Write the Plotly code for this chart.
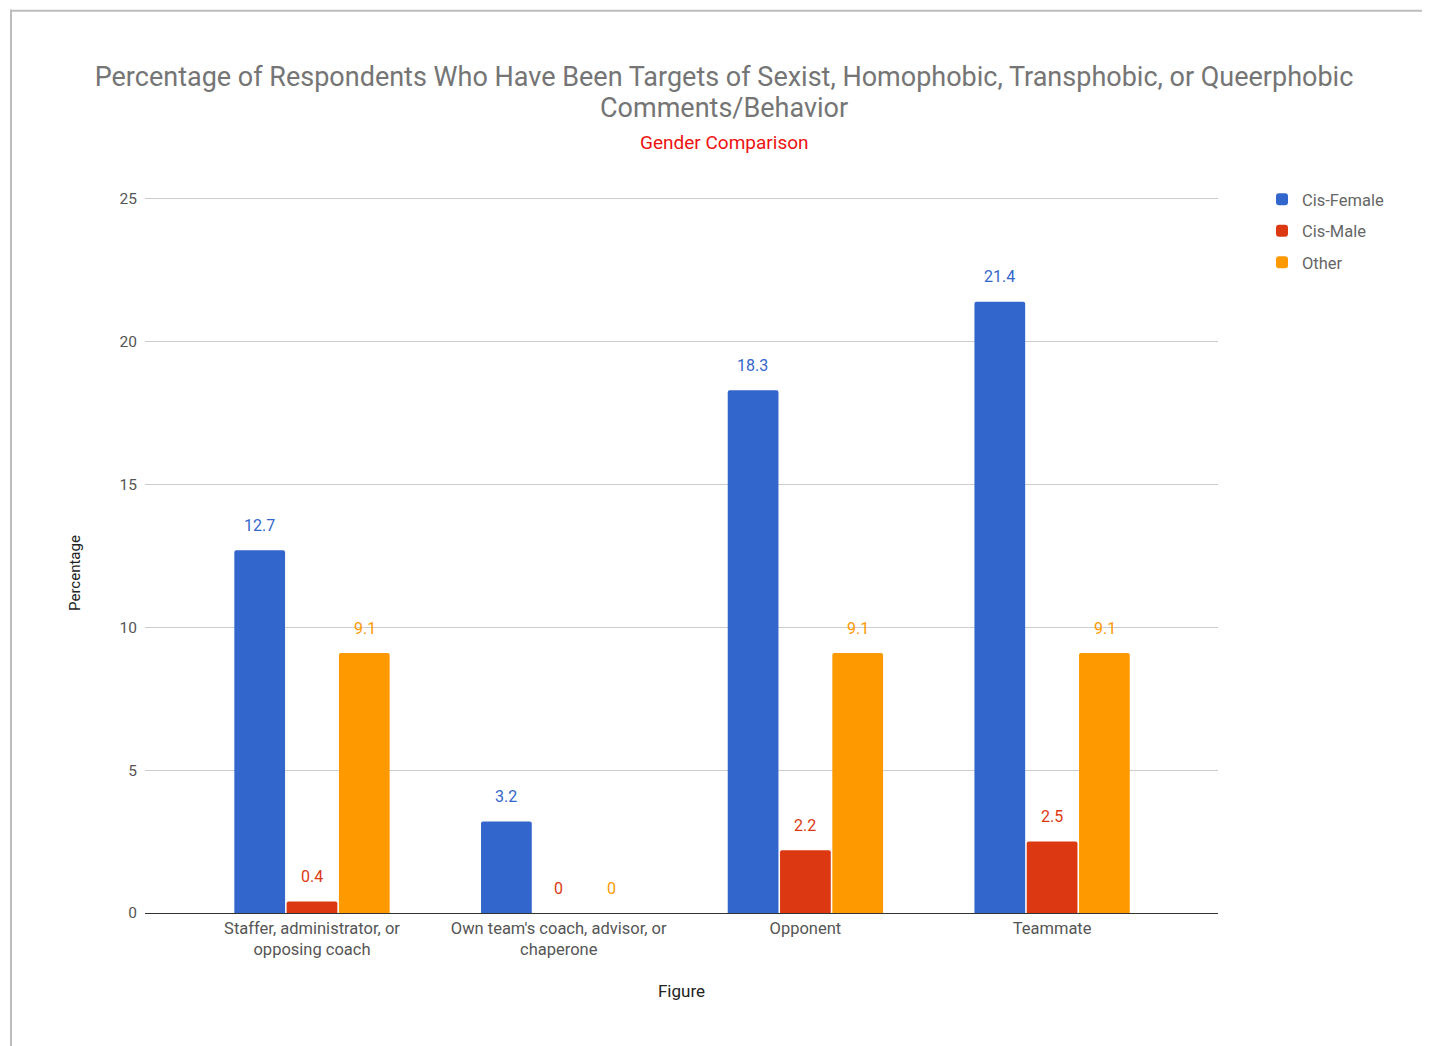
import plotly.graph_objects as go

categories = ["Staffer, administrator, or<br>opposing coach",
              "Own team's coach, advisor, or<br>chaperone",
              "Opponent", "Teammate"]
series_names = ["Cis-Female", "Cis-Male", "Other"]
cis_female = [12.7, 3.2, 18.3, 21.4]
cis_male = [0.4, 0, 2.2, 2.5]
other = [9.1, 0, 9.1, 9.1]
y_ticks = [0, 5, 10, 15, 20, 25]

title_line1 = "Percentage of Respondents Who Have Been Targets of Sexist, Homophobic, Transphobic, or Queerphobic"
title_line2 = "Comments/Behavior"
subtitle = "Gender Comparison"

series_values = [cis_female, cis_male, other]
colors = ["#3366cc", "#dc3912", "#ff9900"]

# page body has an 8px margin, so figure is drawn 8px in from the window edge
OFF = 8
W, H = 1430 - OFF, 1046 - OFF
L, R, B = 145 - OFF, 212, 133
unit_px = 714 / 25
y_top = 25.1
T = (913 - OFF) - y_top * unit_px
pw, ph = W - L - R, H - T - B

def px(xp):
    return (xp - OFF - L) / pw

def py(yp):
    return (H - B - (yp - OFF)) / ph

fig = go.Figure()
for name, vals, col in zip(series_names, series_values, colors):
    fig.add_trace(go.Bar(x=categories, y=vals, name=name, legendgroup=name,
                         marker=dict(color=col, line=dict(width=0), cornerradius=2)))

annotations = []
for i, (vals, col) in enumerate(zip(series_values, colors)):
    for c, v in zip(categories, vals):
        annotations.append(dict(x=c, y=v, xref="x", yref="y", text=str(v),
                                showarrow=False, xshift=(i - 1) * 53, yshift=25,
                                font=dict(size=16, color=col, family="Roboto")))
annotations.append(dict(text=title_line2, xref="paper", yref="paper",
                        x=px(724), y=py(108), xanchor="center", yanchor="middle",
                        showarrow=False, font=dict(size=27, color="#757575", family="Roboto")))
annotations.append(dict(text=subtitle, xref="paper", yref="paper",
                        x=px(724), y=py(143), xanchor="center", yanchor="middle",
                        showarrow=False, font=dict(size=19, color="#ee1111", family="Roboto")))
annotations.append(dict(text="Percentage", xref="paper", yref="paper", textangle=-90,
                        x=px(75), y=py(573), xanchor="center", yanchor="middle",
                        showarrow=False, font=dict(size=15, color="#222222", family="Roboto")))

# category spacing ~246.7px; first category center at page x=312
cat_px = 246.7
x0 = -(312 - OFF - L) / cat_px
x1 = x0 + pw / cat_px

shapes = [
    dict(type="line", xref="paper", yref="paper", x0=px(10), x1=px(1440), y0=py(11), y1=py(11),
         line=dict(color="#bdbdbd", width=2)),
    dict(type="line", xref="paper", yref="paper", x0=px(11), x1=px(11), y0=py(10), y1=py(1060),
         line=dict(color="#bdbdbd", width=2)),
]

fig.update_layout(
    width=W, height=H,
    margin=dict(l=L, r=R, t=T, b=B, autoexpand=False),
    paper_bgcolor="white", plot_bgcolor="white",
    font=dict(family="Roboto", color="#666666"),
    barmode="group", bargap=0.364, bargroupgap=0.03,
    title=dict(text=title_line1,
               x=(724 - OFF) / W, xanchor="center", xref="container",
               y=1 - (77 - OFF) / H, yanchor="middle", yref="container",
               font=dict(size=27, color="#757575", family="Roboto")),
    xaxis=dict(range=[x0, x1], showgrid=False, showline=True, linecolor="#333333", linewidth=1,
               ticks="", tickfont=dict(size=16.5, color="#555555"),
               title=dict(text="Figure", font=dict(size=17, color="#222222"), standoff=26)),
    yaxis=dict(range=[0, y_top], tickvals=y_ticks, showgrid=True, gridcolor="#cccccc", gridwidth=1,
               zeroline=False, showline=False, ticks="", ticklabelstandoff=7,
               tickfont=dict(size=15.5, color="#555555")),
    legend=dict(x=(1262 - OFF) / W, y=1 - (182 - OFF) / H, xref="container", yref="container",
                xanchor="left", yanchor="top", font=dict(size=16.5, color="#666666"),
                bgcolor="rgba(0,0,0,0)", itemwidth=30, tracegroupgap=7),
    annotations=annotations,
    shapes=shapes,
    showlegend=True,
)

fig.write_html("out.html")
